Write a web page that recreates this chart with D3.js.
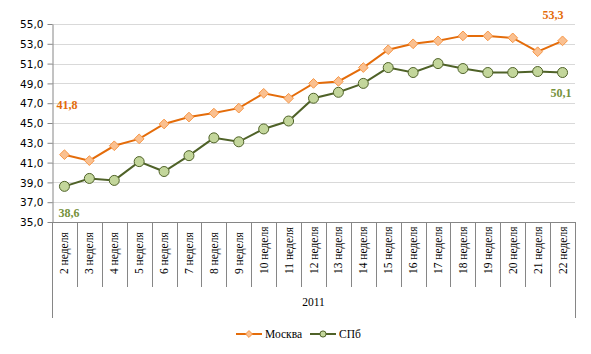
<!DOCTYPE html>
<html>
<head>
<meta charset="utf-8">
<script src="https://cdn.jsdelivr.net/npm/d3@7"></script>
<style>
  body { margin: 0; background: #fff; }
  svg { display: block; }
</style>
</head>
<body>
<svg id="chart"></svg>
<script>
const width = 591;
const height = 354;

const weeks = ['2 неделя', '3 неделя', '4 неделя', '5 неделя', '6 неделя', '7 неделя', '8 неделя',
  '9 неделя', '10 неделя', '11 неделя', '12 неделя', '13 неделя', '14 неделя', '15 неделя',
  '16 неделя', '17 неделя', '18 неделя', '19 неделя', '20 неделя', '21 неделя', '22 неделя'];
const moscow = [41.8, 41.2, 42.7, 43.4, 44.9, 45.6, 46.0, 46.5, 48.0, 47.5, 49.0, 49.2, 50.6,
  52.4, 53.0, 53.3, 53.8, 53.8, 53.6, 52.2, 53.3];
const spb = [38.6, 39.4, 39.2, 41.1, 40.1, 41.7, 43.5, 43.1, 44.4, 45.2, 47.5, 48.1, 49.0,
  50.6, 50.1, 51.0, 50.5, 50.1, 50.1, 50.2, 50.1];
const yTicks = [35, 37, 39, 41, 43, 45, 47, 49, 51, 53, 55];
const year = '2011';

const plotLeft = 52, plotRight = 575, plotTop = 24, plotBottom = 222;

const svg = d3.select('#chart').attr('width', width).attr('height', height);

const x = d3.scaleBand().domain(weeks).range([plotLeft, plotRight]);
const y = d3.scaleLinear().domain([35, 55]).range([plotBottom, plotTop]);
const fmt = v => d3.format('.1f')(v).replace('.', ',');

// grid
svg.append('g').selectAll('line').data(yTicks.slice(1)).enter().append('line')
  .attr('x1', plotLeft).attr('x2', plotRight)
  .attr('y1', d => Math.round(y(d)) + 0.5).attr('y2', d => Math.round(y(d)) + 0.5)
  .attr('stroke', '#d9d9d9').attr('stroke-width', 1);

// y axis
const yAxis = svg.append('g').attr('transform', `translate(${plotLeft + 0.5},0)`)
  .call(d3.axisLeft(y).tickValues(yTicks).tickFormat(fmt).tickSize(5).tickSizeOuter(0));
yAxis.select('.domain').attr('stroke', '#868686');
yAxis.selectAll('.tick line').attr('stroke', '#868686');
yAxis.selectAll('.tick text').attr('x', -9).attr('dy', '0.35em')
  .attr('font-family', 'DejaVu Sans').attr('font-size', 10.5).attr('fill', '#000');

// x axis (multi-level)
const xg = svg.append('g');
xg.append('line').attr('x1', plotLeft).attr('x2', plotRight + 0.5)
  .attr('y1', plotBottom + 0.5).attr('y2', plotBottom + 0.5).attr('stroke', '#868686');
const bounds = weeks.map(d => x(d)).concat([plotRight]);
xg.selectAll('line.sep').data(bounds).enter().append('line').attr('class', 'sep')
  .attr('x1', d => Math.round(d) + 0.5).attr('x2', d => Math.round(d) + 0.5)
  .attr('y1', plotBottom).attr('y2', (d, i) => (i === 0 || i === bounds.length - 1) ? 318 : 287)
  .attr('stroke', '#868686');
xg.selectAll('text.cat').data(weeks).enter().append('text').attr('class', 'cat')
  .attr('transform', d => `translate(${x(d) + x.bandwidth() / 2 + 4},${274}) rotate(-90)`)
  .attr('text-anchor', 'start')
  .attr('font-family', 'Liberation Serif').attr('font-size', 11.5).attr('fill', '#000')
  .text(d => d);
xg.append('text').attr('x', (plotLeft + plotRight) / 2).attr('y', 306)
  .attr('text-anchor', 'middle').attr('font-family', 'Liberation Serif')
  .attr('font-size', 11.5).attr('fill', '#000').text(year);

// lines
const cx = (d, i) => x(weeks[i]) + x.bandwidth() / 2;
const line = d3.line().x(cx).y(d => y(d));

svg.append('path').datum(moscow).attr('d', line)
  .attr('fill', 'none').attr('stroke', '#e46c0a').attr('stroke-width', 2);
svg.append('path').datum(spb).attr('d', line)
  .attr('fill', 'none').attr('stroke', '#4f6228').attr('stroke-width', 2);

const diamond = d3.symbol().type(d3.symbolDiamond2).size(60);
svg.append('g').selectAll('path').data(moscow).enter().append('path')
  .attr('d', diamond)
  .attr('transform', (d, i) => `translate(${cx(d, i)},${y(d)})`)
  .attr('fill', '#fac090').attr('stroke', '#f79646').attr('stroke-width', 1);

svg.append('g').selectAll('circle').data(spb).enter().append('circle')
  .attr('cx', cx).attr('cy', d => y(d)).attr('r', 5)
  .attr('fill', '#c3d69b').attr('stroke', '#4f6228').attr('stroke-width', 1);

// data labels
const labels = [
  { v: moscow[0], x: 67, y: 109, c: '#e46c0a' },
  { v: spb[0], x: 69, y: 217, c: '#76923c' },
  { v: moscow[moscow.length - 1], x: 553, y: 19, c: '#e46c0a' },
  { v: spb[spb.length - 1], x: 561, y: 97, c: '#76923c' }
];
svg.append('g').selectAll('text').data(labels).enter().append('text')
  .attr('x', d => d.x).attr('y', d => d.y).attr('text-anchor', 'middle')
  .attr('font-family', 'Liberation Serif').attr('font-weight', 'bold').attr('font-size', 12)
  .attr('fill', d => d.c).text(d => fmt(d.v));

// legend
const legend = [
  { name: 'Москва', x: 236, c: '#e46c0a', fill: '#fac090', stroke: '#f79646', type: 'diamond' },
  { name: 'СПб', x: 310, c: '#4f6228', fill: '#c3d69b', stroke: '#4f6228', type: 'circle' }
];
const lg = svg.append('g').selectAll('g').data(legend).enter().append('g')
  .attr('transform', d => `translate(${d.x},334)`);
lg.append('line').attr('x1', 0).attr('x2', 26).attr('stroke', d => d.c).attr('stroke-width', 2);
lg.append('path')
  .attr('d', d => d.type === 'diamond'
    ? d3.symbol().type(d3.symbolDiamond2).size(30)()
    : d3.symbol().type(d3.symbolCircle).size(30)())
  .attr('transform', 'translate(13,0)')
  .attr('fill', d => d.fill).attr('stroke', d => d.stroke);
lg.append('text').attr('x', 29).attr('y', 4)
  .attr('font-family', 'Liberation Serif').attr('font-size', 11.5).attr('fill', '#000')
  .text(d => d.name);
</script>
</body>
</html>
